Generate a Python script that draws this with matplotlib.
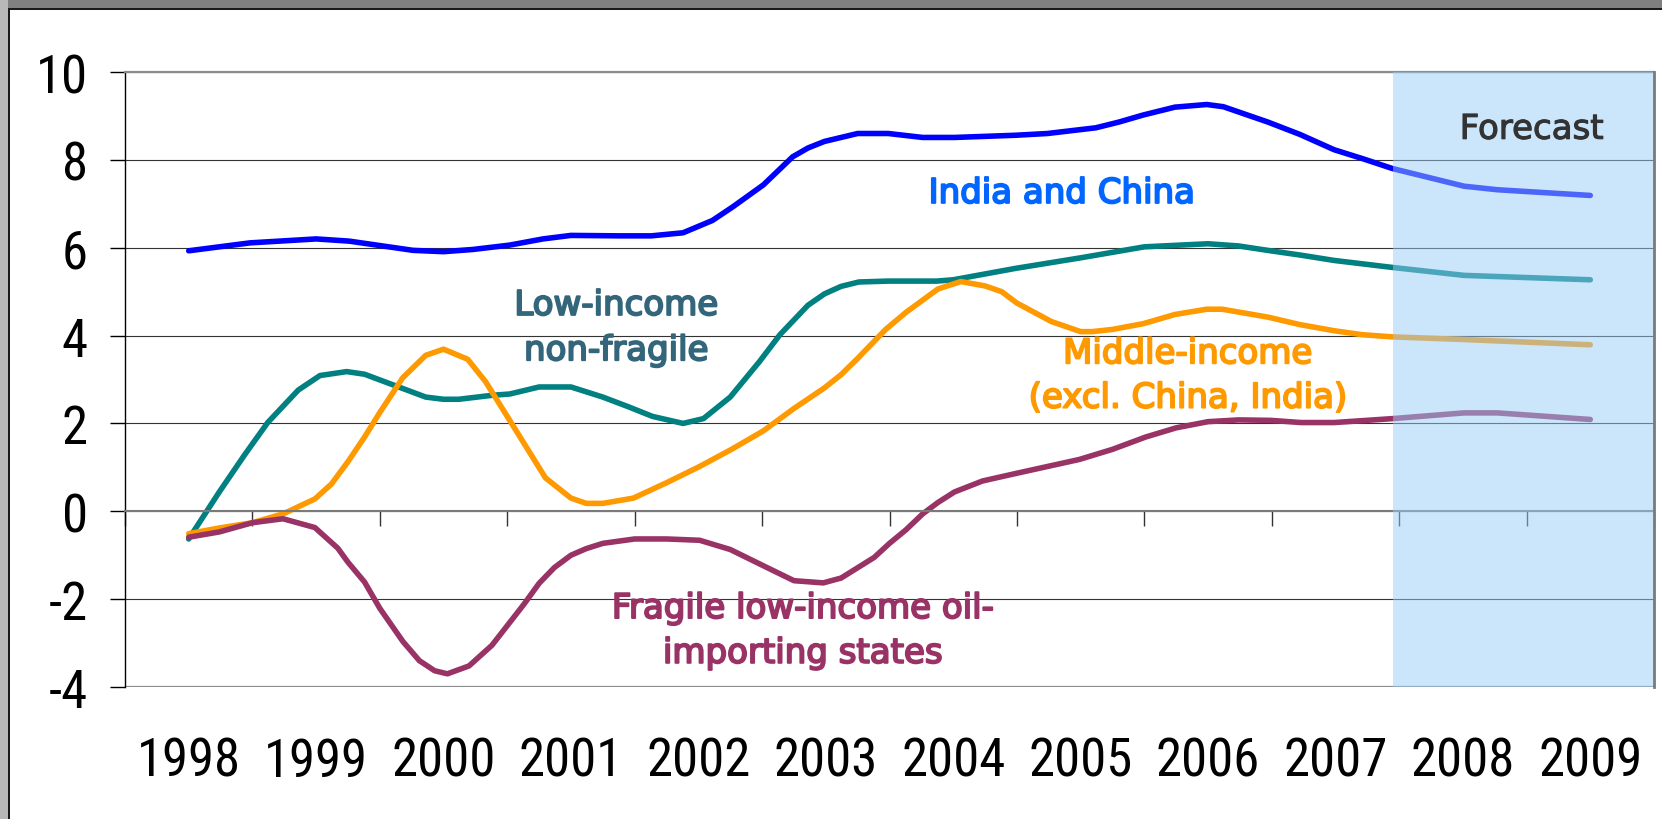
import matplotlib
matplotlib.use('Agg')
import matplotlib.pyplot as plt
from matplotlib.patches import Rectangle
from matplotlib import font_manager
import matplotlib.patheffects as pe
import numpy as np

# ---------------- data ----------------
years = [1998, 1999, 2000, 2001, 2002, 2003, 2004, 2005, 2006, 2007, 2008, 2009]
year_labels = [str(y) for y in years]
y_ticks = [-4, -2, 0, 2, 4, 6, 8, 10]
y_tick_labels = ['-4', '-2', '0', '2', '4', '6', '8', '10']
forecast_start = 2007.45

india_x = [1998.00, 1998.48, 1999.00, 1999.26, 1999.76, 2000.00, 2000.23, 2000.52, 2000.78,
           2001.00, 2001.38, 2001.63, 2001.88, 2002.11, 2002.27, 2002.51, 2002.74, 2002.86,
           2002.99, 2003.25, 2003.49, 2003.76, 2004.01, 2004.49, 2004.74, 2005.12, 2005.30,
           2005.49, 2005.74, 2005.99, 2006.12, 2006.47, 2006.72, 2006.99, 2007.21, 2007.45,
           2008.01, 2008.27, 2009.00]
india_y = [5.93, 6.11, 6.20, 6.15, 5.94, 5.91, 5.96, 6.06, 6.20,
           6.28, 6.27, 6.27, 6.34, 6.62, 6.93, 7.43, 8.07, 8.27,
           8.42, 8.60, 8.60, 8.51, 8.51, 8.56, 8.60, 8.73, 8.86,
           9.02, 9.20, 9.26, 9.21, 8.86, 8.58, 8.23, 8.03, 7.80,
           7.40, 7.32, 7.19]

lowinc_x = [1998.00, 1998.24, 1998.44, 1998.62, 1998.86, 1999.03, 1999.24, 1999.38, 1999.62,
            1999.86, 2000.00, 2000.12, 2000.38, 2000.52, 2000.75, 2001.00, 2001.25, 2001.45,
            2001.64, 2001.88, 2002.04, 2002.25, 2002.48, 2002.64, 2002.86, 2002.99, 2003.12,
            2003.26, 2003.49, 2003.87, 2004.00, 2004.49, 2005.00, 2005.50, 2006.00, 2006.24,
            2006.49, 2006.73, 2006.99, 2007.45, 2008.01, 2009.00]
lowinc_y = [-0.63, 0.44, 1.29, 2.02, 2.76, 3.09, 3.18, 3.12, 2.86,
            2.60, 2.55, 2.55, 2.64, 2.67, 2.83, 2.83, 2.60, 2.38,
            2.16, 2.00, 2.11, 2.60, 3.41, 4.02, 4.69, 4.95, 5.12,
            5.22, 5.24, 5.24, 5.27, 5.53, 5.77, 6.02, 6.09, 6.04,
            5.93, 5.83, 5.71, 5.55, 5.37, 5.27]

midinc_x = [1998.00, 1998.24, 1998.50, 1998.74, 1998.99, 1999.12, 1999.25, 1999.38, 1999.50,
            1999.68, 1999.86, 2000.00, 2000.19, 2000.33, 2000.53, 2000.80, 2001.00, 2001.12,
            2001.25, 2001.49, 2001.75, 2002.01, 2002.26, 2002.51, 2002.75, 2002.99, 2003.12,
            2003.25, 2003.47, 2003.63, 2003.88, 2004.06, 2004.25, 2004.38, 2004.50, 2004.77,
            2005.00, 2005.09, 2005.25, 2005.49, 2005.74, 2005.99, 2006.11, 2006.47, 2006.72,
            2006.99, 2007.21, 2007.45, 2008.01, 2009.00]
midinc_y = [-0.51, -0.38, -0.26, -0.06, 0.28, 0.62, 1.13, 1.69, 2.25,
            3.04, 3.55, 3.69, 3.46, 2.95, 2.02, 0.76, 0.30, 0.18,
            0.18, 0.30, 0.65, 1.02, 1.41, 1.83, 2.34, 2.81, 3.11,
            3.48, 4.14, 4.53, 5.06, 5.23, 5.13, 5.00, 4.74, 4.32,
            4.09, 4.09, 4.14, 4.27, 4.48, 4.60, 4.60, 4.42, 4.25,
            4.11, 4.02, 3.97, 3.91, 3.79]

fragile_x = [1998.00, 1998.24, 1998.50, 1998.74, 1998.99, 1999.17, 1999.25, 1999.38, 1999.50,
             1999.68, 1999.81, 1999.93, 2000.03, 2000.20, 2000.38, 2000.63, 2000.75, 2000.87,
             2001.00, 2001.12, 2001.25, 2001.50, 2001.75, 2002.01, 2002.25, 2002.51, 2002.75,
             2002.98, 2003.12, 2003.38, 2003.50, 2003.63, 2003.76, 2003.88, 2004.01, 2004.23,
             2004.49, 2004.99, 2005.25, 2005.51, 2005.75, 2006.00, 2006.24, 2006.49, 2006.73,
             2006.99, 2007.45, 2008.01, 2008.27, 2009.00]
fragile_y = [-0.59, -0.47, -0.26, -0.17, -0.37, -0.84, -1.16, -1.61, -2.21,
             -2.96, -3.40, -3.63, -3.70, -3.52, -3.05, -2.12, -1.64, -1.28,
             -1.00, -0.85, -0.73, -0.63, -0.63, -0.66, -0.87, -1.24, -1.58,
             -1.63, -1.52, -1.05, -0.73, -0.42, -0.06, 0.20, 0.44, 0.69,
             0.86, 1.18, 1.41, 1.69, 1.90, 2.04, 2.08, 2.07, 2.02,
             2.02, 2.11, 2.24, 2.24, 2.09]

series = [
    (india_x, india_y, '#0000FF'),
    (lowinc_x, lowinc_y, '#008080'),
    (midinc_x, midinc_y, '#FF9900'),
    (fragile_x, fragile_y, '#993366'),
]

# labels: (lines, x-center, baselines, colour)
labels = [
    (['India and China'], 2004.85, [7.02], '#0066FF'),
    (['Low-income', 'non-fragile'], 2001.355, [4.47, 3.44], '#33667A'),
    (['Middle-income', '(excl. China, India)'], 2005.84, [3.37, 2.36], '#FF9900'),
    (['Fragile low-income oil-', 'importing states'], 2002.82, [-2.43, -3.45], '#993366'),
]
forecast_label = ('Forecast', 2008.54, 8.48, '#333333')

# ---------------- fonts ----------------
available = {f.name for f in font_manager.fontManager.ttflist}
narrow_pref = ['Liberation Sans Narrow', 'DejaVu Sans Condensed', 'Roboto Condensed',
               'Open Sans Condensed', 'Liberation Sans']
tick_family = next((n for n in narrow_pref if n in available), 'DejaVu Sans')
tick_size = 38 if tick_family != 'Liberation Sans' else 34

# ---------------- figure ----------------
W, H = 1662, 820
fig = plt.figure(figsize=(W / 100, H / 100), dpi=100)
fig.patch.set_facecolor('white')

ax = fig.add_axes([125 / W, 1 - 688 / H, (1654 - 125) / W, (688 - 73) / H])
ax.set_xlim(years[0] - 0.5, years[-1] + 0.5)
ax.set_ylim(min(y_ticks), max(y_ticks))

tick_font = dict(family=[tick_family, 'DejaVu Sans'], size=tick_size)

# y axis
ax.set_yticks(y_ticks)
ax.set_yticklabels(y_tick_labels, fontdict=tick_font)
ax.tick_params(axis='y', direction='out', length=10.8, width=1.0, color='black', pad=16)
ax.yaxis.grid(True, color='#333333', linewidth=0.8)
gl = ax.yaxis.get_gridlines()
for g in (gl[0], gl[-1]):
    g.set_color('#8C8C8C')
    g.set_linewidth(1.6)
ax.set_axisbelow(True)

# x axis line at zero with boundary ticks
ax.spines['bottom'].set_position(('data', 0))
ax.spines['bottom'].set_color('#7A7A7A')
ax.spines['bottom'].set_linewidth(1.5)
bounds = np.arange(len(years) + 1) + years[0] - 0.5
ax.set_xticks(bounds)
ax.set_xticklabels([])
ax.tick_params(axis='x', direction='out', length=10.8, width=1.0, color='#333333')

ax.spines['left'].set_color('black')
ax.spines['left'].set_linewidth(1.0)
ax.spines['top'].set_color('#8C8C8C')
ax.spines['top'].set_linewidth(1.6)
ax.spines['right'].set_color('#7A7A7A')
ax.spines['right'].set_linewidth(2.0)
ax.spines['right'].set_zorder(4)

sec = ax.secondary_xaxis(0)
sec.set_xticks(years)
sec.set_xticklabels(year_labels, fontdict=tick_font)
sec.tick_params(axis='x', length=0, pad=35)
sec.spines['bottom'].set_visible(False)

# series
for xs, ys, c in series:
    ax.plot(xs, ys, color=c, linewidth=4.0, solid_capstyle='round',
            solid_joinstyle='round', zorder=2)

# forecast overlay
ax.axvspan(forecast_start, ax.get_xlim()[1], color=(0.6, 0.8, 0.97), alpha=0.5,
           lw=0, zorder=3)

# labels
for lines, xc, bases, col in labels:
    for line, b in zip(lines, bases):
        ax.text(xc, b, line, ha='center', va='baseline', color=col,
                fontsize=24.5, family='DejaVu Sans', zorder=5,
                path_effects=[pe.withStroke(linewidth=1.4, foreground=col)])
ft, fx, fy, fc = forecast_label
ax.text(fx, fy, ft, ha='center', va='baseline', color=fc, fontsize=24.5,
        family='DejaVu Sans', zorder=5,
        path_effects=[pe.withStroke(linewidth=0.8, foreground=fc)])

# outer frame (grey window border)
fig.add_artist(Rectangle((0, 1 - 9 / H), 1, 9 / H, transform=fig.transFigure,
                         color='#808080', lw=0))
fig.add_artist(Rectangle((0, 1 - 10.5 / H), 1, 1.8 / H, transform=fig.transFigure,
                         color='#1A1A1A', lw=0))
fig.add_artist(Rectangle((0, 0), 8 / W, 1, transform=fig.transFigure,
                         color='#B8B8B8', lw=0))
fig.add_artist(Rectangle((8 / W, 0), 1.8 / W, 1 - 9 / H, transform=fig.transFigure,
                         color='#1A1A1A', lw=0))

fig.savefig('out.png', dpi=100)
